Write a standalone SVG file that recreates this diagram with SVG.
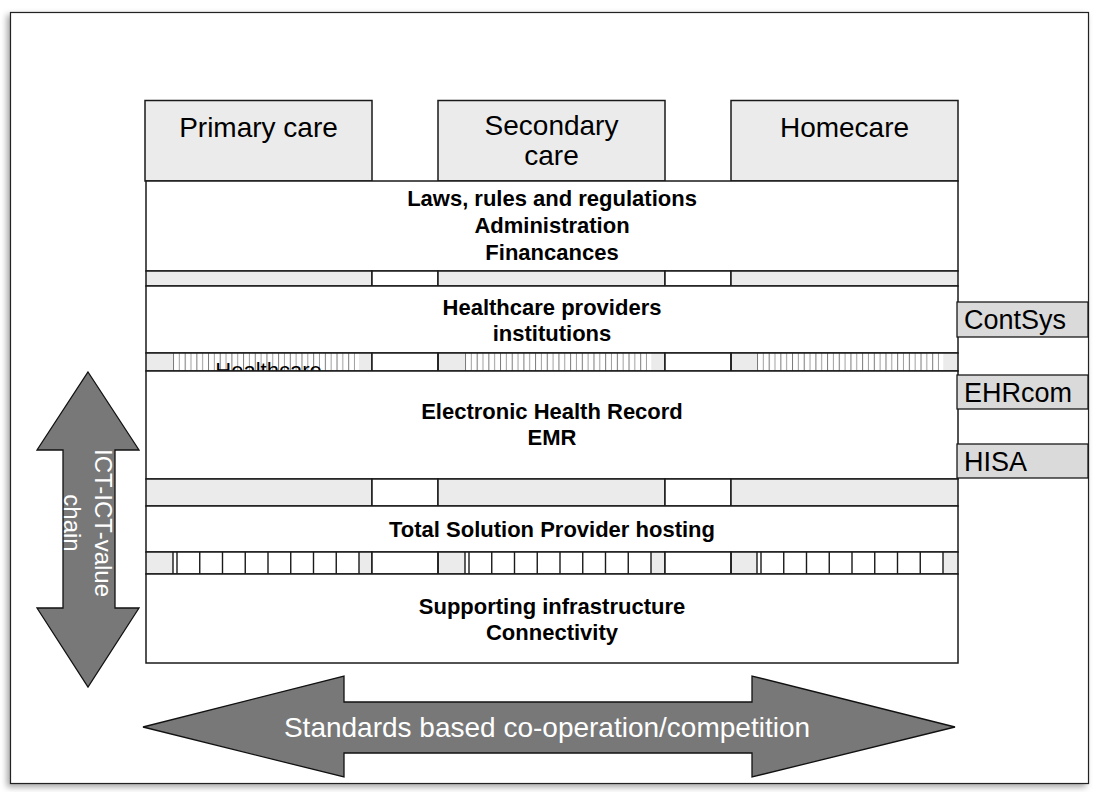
<svg xmlns="http://www.w3.org/2000/svg" width="1099" height="792" viewBox="0 0 1099 792">
<defs>
<style>
.t{font-family:"Liberation Sans",Arial,Helvetica,sans-serif;fill:#000}
.reg{font-size:28px;text-anchor:middle}
.b{font-size:22px;font-weight:bold;text-anchor:middle}
.side{font-size:27px}
.wt{font-family:"Liberation Sans",Arial,Helvetica,sans-serif;fill:#fff;text-anchor:middle}
.lay{fill:#fff;stroke:#1a1a1a;stroke-width:1.5}
.g{fill:#ebebeb;stroke:#1a1a1a;stroke-width:1.5}
.w{fill:#fff;stroke:#1a1a1a;stroke-width:1.5}
.sb{fill:#dadada;stroke:#1a1a1a;stroke-width:1.3}
.arr{fill:#787878;stroke:#111;stroke-width:1.3;stroke-linejoin:miter}
</style>
<filter id="sh" x="-5%" y="-5%" width="110%" height="110%">
<feDropShadow dx="-3" dy="3" stdDeviation="3" flood-color="#000" flood-opacity="0.35"/>
</filter>
<pattern id="hatch" patternUnits="userSpaceOnUse" x="173" y="353" width="11.68" height="18">
<rect width="11.68" height="18" fill="#fff"/>
<line x1="0.5" y1="0" x2="0.5" y2="18" stroke="#7a7a7a" stroke-width="1"/>
<line x1="6.3" y1="0" x2="6.3" y2="18" stroke="#a0a0a0" stroke-width="1"/>
</pattern>
<clipPath id="clipA"><rect x="146" y="353" width="812" height="18"/></clipPath>
</defs>

<rect x="10.5" y="12.5" width="1078" height="771" fill="#fff" stroke="#222" stroke-width="1.2" filter="url(#sh)"/>

<g id="care-columns">
<g id="primary-care"><rect class="g" x="145" y="100.5" width="227" height="80.5"/><text class="t reg" x="258.5" y="137">Primary care</text></g>
<g id="secondary-care"><rect class="g" x="438" y="100.5" width="227" height="80.5"/><text class="t reg" x="551.5" y="135">Secondary</text><text class="t reg" x="551.5" y="165">care</text></g>
<g id="homecare"><rect class="g" x="731" y="100.5" width="227" height="80.5"/><text class="t reg" x="844.5" y="137">Homecare</text></g>
</g>

<g id="layer-laws"><rect class="lay" x="146" y="181" width="812" height="90"/>
<text class="t b" x="552" y="206">Laws, rules and regulations</text>
<text class="t b" x="552" y="233">Administration</text>
<text class="t b" x="552" y="260">Financances</text></g>

<g id="strip-1">
<rect class="g" x="146" y="271" width="226" height="15"/><rect class="w" x="372" y="271" width="66" height="15"/>
<rect class="g" x="438" y="271" width="227" height="15"/><rect class="w" x="665" y="271" width="66" height="15"/>
<rect class="g" x="731" y="271" width="227" height="15"/>
</g>

<g id="layer-providers"><rect class="lay" x="146" y="286" width="812" height="67"/>
<text class="t b" x="552" y="315">Healthcare providers</text>
<text class="t b" x="552" y="341">institutions</text></g>

<g id="strip-2">
<rect fill="#ebebeb" x="146" y="353" width="226" height="18"/>
<rect fill="url(#hatch)" x="173" y="353" width="186" height="18"/>
<rect fill="#ebebeb" x="438" y="353" width="227" height="18"/>
<rect fill="url(#hatch)" x="465" y="353" width="187" height="18"/>
<rect fill="#ebebeb" x="731" y="353" width="227" height="18"/>
<rect fill="url(#hatch)" x="757" y="353" width="187" height="18"/>
<g clip-path="url(#clipA)"><text class="t" x="268.5" y="378" font-size="22" text-anchor="middle" fill="#222">Healthcare</text></g>
<rect fill="none" stroke="#1a1a1a" stroke-width="1.5" x="146" y="353" width="226" height="18"/>
<rect class="w" x="372" y="353" width="66" height="18"/>
<rect fill="none" stroke="#1a1a1a" stroke-width="1.5" x="438" y="353" width="227" height="18"/>
<rect class="w" x="665" y="353" width="66" height="18"/>
<rect fill="none" stroke="#1a1a1a" stroke-width="1.5" x="731" y="353" width="227" height="18"/>
</g>

<g id="layer-ehr"><rect class="lay" x="146" y="371" width="812" height="108"/>
<text class="t b" x="552" y="419">Electronic Health Record</text>
<text class="t b" x="552" y="445">EMR</text></g>

<g id="strip-3">
<rect class="g" x="146" y="479" width="226" height="27"/><rect class="w" x="372" y="479" width="66" height="27"/>
<rect class="g" x="438" y="479" width="227" height="27"/><rect class="w" x="665" y="479" width="66" height="27"/>
<rect class="g" x="731" y="479" width="227" height="27"/>
</g>

<g id="layer-tsp"><rect class="lay" x="146" y="506" width="812" height="46"/>
<text class="t b" x="552" y="537">Total Solution Provider hosting</text></g>

<g id="strip-4">
<rect fill="#ebebeb" x="146" y="552" width="226" height="22"/>
<rect fill="#fff" x="173" y="552" width="186" height="22"/>
<rect fill="#ebebeb" x="438" y="552" width="227" height="22"/>
<rect fill="#fff" x="465" y="552" width="186" height="22"/>
<rect fill="#ebebeb" x="731" y="552" width="227" height="22"/>
<rect fill="#fff" x="757" y="552" width="186" height="22"/>
<path fill="none" stroke="#1a1a1a" stroke-width="1.4" d="M173 552V574M177 552V574M199.75 552V574M222.5 552V574M245.25 552V574M268 552V574M290.75 552V574M313.5 552V574M336.25 552V574M359 552V574M465 552V574M469 552V574M491.75 552V574M514.5 552V574M537.25 552V574M560 552V574M582.75 552V574M605.5 552V574M628.25 552V574M651 552V574M757 552V574M761 552V574M783.75 552V574M806.5 552V574M829.25 552V574M852 552V574M874.75 552V574M897.5 552V574M920.25 552V574M943 552V574"/>
<rect fill="none" stroke="#1a1a1a" stroke-width="1.5" x="146" y="552" width="226" height="22"/>
<rect class="w" x="372" y="552" width="66" height="22"/>
<rect fill="none" stroke="#1a1a1a" stroke-width="1.5" x="438" y="552" width="227" height="22"/>
<rect class="w" x="665" y="552" width="66" height="22"/>
<rect fill="none" stroke="#1a1a1a" stroke-width="1.5" x="731" y="552" width="227" height="22"/>
</g>

<g id="layer-infrastructure"><rect class="lay" x="146" y="574" width="812" height="89"/>
<text class="t b" x="552" y="614">Supporting infrastructure</text>
<text class="t b" x="552" y="640">Connectivity</text></g>

<g id="contsys"><rect class="sb" x="957" y="302" width="131" height="35"/><text class="t side" x="964" y="329">ContSys</text></g>
<g id="ehrcom"><rect class="sb" x="957" y="375" width="131" height="34"/><text class="t side" x="964" y="402">EHRcom</text></g>
<g id="hisa"><rect class="sb" x="957" y="444" width="131" height="34"/><text class="t side" x="964" y="471">HISA</text></g>

<g id="connectors">
<g id="value-chain-arrow">
<path class="arr" d="M88 372L139 450H115V608H139L88 687L37 608H63V450H37Z"/>
<text class="wt" transform="translate(88,523) rotate(90)" font-size="24"><tspan x="0" y="-7">ICT-ICT-value</tspan><tspan x="0" y="24">chain</tspan></text>
</g>
<g id="standards-arrow">
<path class="arr" d="M143 727L344 676V702H752V676L955 727L752 777V753H344V777Z"/>
<text class="wt" x="547" y="737" font-size="28">Standards based co-operation/competition</text>
</g>
</g>
</svg>
